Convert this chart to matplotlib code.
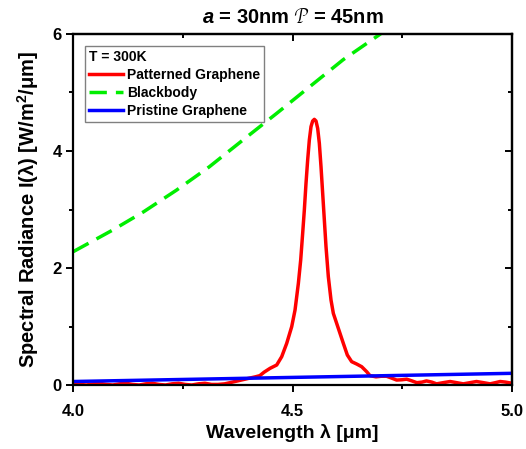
import matplotlib
matplotlib.use("Agg")
import matplotlib.pyplot as plt
from matplotlib.ticker import MultipleLocator, FormatStrFormatter, NullFormatter

plt.rcParams['font.family'] = ['Liberation Sans', 'DejaVu Sans']
plt.rcParams['mathtext.fontset'] = 'custom'
plt.rcParams['mathtext.rm'] = 'Liberation Sans:bold'
plt.rcParams['mathtext.bf'] = 'Liberation Sans:bold'
plt.rcParams['mathtext.it'] = 'Liberation Sans:bold:italic'

# patterned graphene emission
wl_pat = [4.000, 4.015, 4.030, 4.045, 4.060, 4.075, 4.090, 4.105, 4.120, 4.135,
          4.150, 4.165, 4.180, 4.195, 4.210, 4.225, 4.240, 4.255, 4.270, 4.285,
          4.300, 4.315, 4.330, 4.345, 4.357, 4.380, 4.403, 4.415, 4.425, 4.435,
          4.4484, 4.4636, 4.4750, 4.4864, 4.4978, 4.5054, 4.5130, 4.5183, 4.5228,
          4.5266, 4.5304, 4.5342, 4.5380, 4.5418, 4.5456, 4.5494, 4.5532, 4.5570,
          4.5608, 4.5646, 4.5684, 4.5722, 4.5760, 4.5813, 4.5874, 4.5927, 4.6003,
          4.6079, 4.6155, 4.6246, 4.6345, 4.6459, 4.6573, 4.6687, 4.6763, 4.690,
          4.702, 4.714, 4.725, 4.737, 4.749, 4.760, 4.772, 4.783, 4.795, 4.805,
          4.817, 4.828, 4.843, 4.859, 4.874, 4.889, 4.904, 4.919, 4.935, 4.950,
          4.962, 4.973, 4.985, 5.000]
rad_pat = [0.03, 0.01, 0.00, 0.02, 0.03, 0.01, 0.00, 0.02, 0.03, 0.01,
           0.00, 0.02, 0.03, 0.01, 0.00, 0.02, 0.03, 0.01, 0.00, 0.02,
           0.03, 0.01, 0.01, 0.02, 0.04, 0.08, 0.12, 0.14, 0.16, 0.22,
           0.285, 0.342, 0.484, 0.712, 0.997, 1.282, 1.738, 2.137, 2.593,
           2.991, 3.447, 3.846, 4.188, 4.416, 4.513, 4.541, 4.513, 4.387,
           4.131, 3.732, 3.276, 2.821, 2.365, 1.852, 1.453, 1.225, 1.054,
           0.883, 0.712, 0.513, 0.399, 0.359, 0.313, 0.228, 0.160, 0.14,
           0.15, 0.15, 0.12, 0.085, 0.09, 0.10, 0.07, 0.04, 0.05, 0.07,
           0.05, 0.02, 0.04, 0.06, 0.04, 0.02, 0.04, 0.06, 0.04, 0.02,
           0.04, 0.06, 0.05, 0.03]

# blackbody at 300 K
wl_bb = [4.00, 4.09, 4.16, 4.235, 4.31, 4.387, 4.463, 4.539, 4.615, 4.70, 4.75]
rad_bb = [2.28, 2.65, 2.96, 3.33, 3.73, 4.19, 4.64, 5.10, 5.56, 6.00, 6.35]

# pristine graphene
wl_pri = [4.0, 4.5, 5.0]
rad_pri = [0.06, 0.13, 0.20]

fig = plt.figure(figsize=(5.26, 4.49), dpi=100)
ax = fig.add_axes([0.1394, 0.1425, 0.834, 0.7818])

ax.plot(wl_pat, rad_pat, color='red', lw=2.5, label='Patterned Graphene')
ax.plot(wl_bb, rad_bb, color='#00ee00', lw=2.5, dashes=(5, 2.6), label='Blackbody')
ax.plot(wl_pri, rad_pri, color='blue', lw=2.5, label='Pristine Graphene')

ax.set_xlim(4.0, 5.0)
ax.set_ylim(0, 6)
ax.xaxis.set_major_locator(MultipleLocator(0.5))
ax.xaxis.set_minor_locator(MultipleLocator(0.25))
ax.yaxis.set_major_locator(MultipleLocator(2))
ax.yaxis.set_minor_locator(MultipleLocator(1))
ax.xaxis.set_major_formatter(FormatStrFormatter('%.1f'))

for sp in ax.spines.values():
    sp.set_linewidth(1.6)
ax.tick_params(which='both', width=1.4, labelsize=12, direction='out')
ax.tick_params(which='major', length=5)
ax.tick_params(which='minor', length=3)
ax.tick_params(axis='x', pad=9)

# top / right: inward ticks, no labels
top = ax.secondary_xaxis('top')
top.xaxis.set_major_locator(MultipleLocator(0.5))
top.xaxis.set_minor_locator(MultipleLocator(0.25))
top.xaxis.set_major_formatter(NullFormatter())
top.tick_params(which='both', direction='in', width=1.4)
top.tick_params(which='major', length=5)
top.tick_params(which='minor', length=3)
right = ax.secondary_yaxis('right')
right.yaxis.set_major_locator(MultipleLocator(2))
right.yaxis.set_minor_locator(MultipleLocator(1))
right.yaxis.set_major_formatter(NullFormatter())
right.tick_params(which='both', direction='in', width=1.4)
right.tick_params(which='major', length=5)
right.tick_params(which='minor', length=3)
for s in (top, right):
    for sp in s.spines.values():
        sp.set_linewidth(1.6)

for lab in ax.get_xticklabels() + ax.get_yticklabels():
    lab.set_fontweight('bold')

ax.set_xlabel('Wavelength λ [μm]', fontsize=14, fontweight='bold', labelpad=3)
ax.set_ylabel(r'Spectral Radiance I(λ) [W/m$^\mathbf{2}$/μm]',
              fontsize=14.5, fontweight='bold', labelpad=8)
ax.set_title(r'$\mathit{a}$ = 30nm $\mathcal{P}$ = 45nm', fontsize=14.5, fontweight='bold', pad=8)

leg = ax.legend(loc='upper left', bbox_to_anchor=(0.027, 0.967), title='T = 300K',
                prop={'weight': 'bold', 'size': 10}, title_fontproperties={'weight': 'bold', 'size': 10},
                fancybox=False, edgecolor='gray', handlelength=2.4, handletextpad=0.3,
                labelspacing=0.3, borderpad=0.3, borderaxespad=0, alignment='left',
                framealpha=1)
leg.get_frame().set_linewidth(1.0)

fig.savefig('out.png', dpi=100)
